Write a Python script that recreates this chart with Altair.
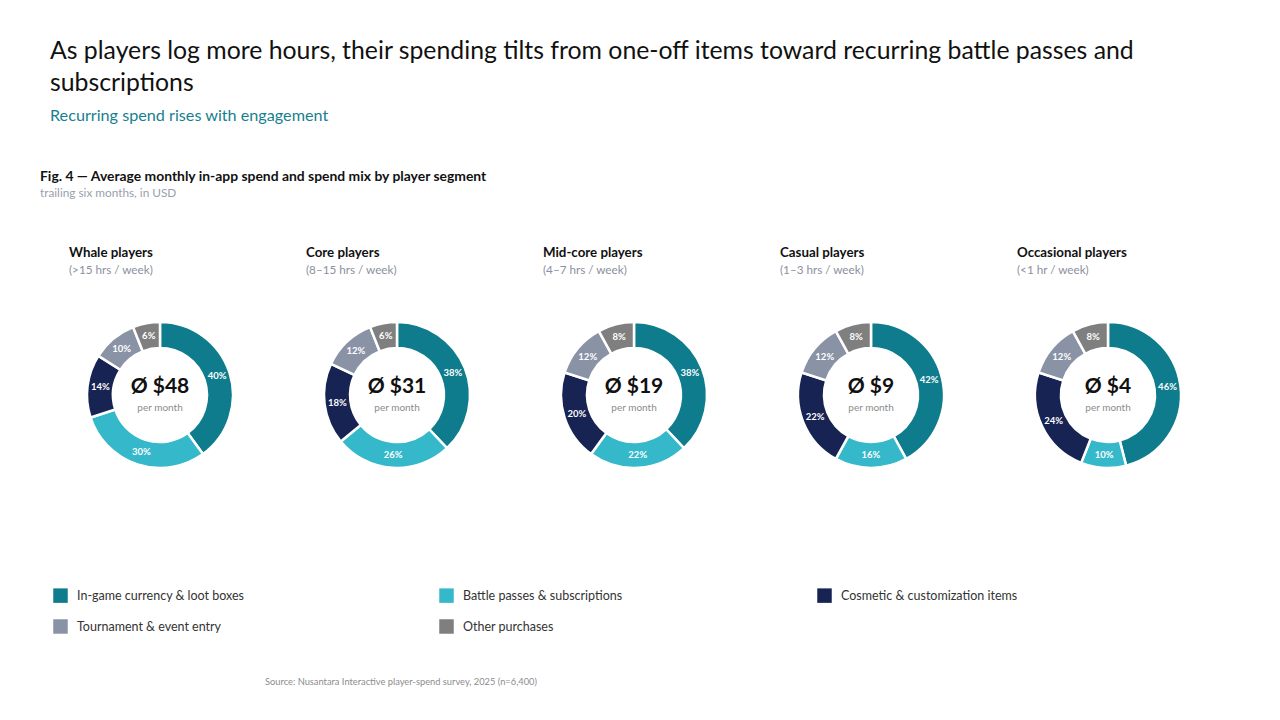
import altair as alt
import pandas as pd

# ---- data ----
segments = ["Whale players", "Core players", "Mid-core players", "Casual players", "Occasional players"]
hours = ["(>15 hrs / week)", "(8–15 hrs / week)", "(4–7 hrs / week)", "(1–3 hrs / week)", "(<1 hr / week)"]
avg_spend = [48, 31, 19, 9, 4]

categories = ["In-game currency & loot boxes", "Battle passes & subscriptions",
              "Cosmetic & customization items", "Tournament & event entry", "Other purchases"]
ingame = [40, 38, 38, 42, 46]
battle = [30, 26, 22, 16, 10]
cosmetic = [14, 18, 20, 22, 24]
tournament = [10, 12, 12, 12, 12]
other = [6, 6, 8, 8, 8]

colors = ["#0E7C8C", "#35B8CA", "#172353", "#8A92A6", "#7F7F7F"]

title_lines = ["As players log more hours, their spending tilts from one-off items toward recurring battle passes and",
               "subscriptions"]
subtitle = "Recurring spend rises with engagement"
fig_title = "Fig. 4 — Average monthly in-app spend and spend mix by player segment"
fig_sub = "trailing six months, in USD"
source = "Source: Nusantara Interactive player-spend survey, 2025 (n=6,400)"

FONT = "Lato"

# ---- build tables ----
series = [ingame, battle, cosmetic, tournament, other]
rows = []
for i, seg in enumerate(segments):
    cum = 0
    for j, cat in enumerate(categories):
        v = series[j][i]
        rows.append({"segment": seg, "category": cat, "order": j, "value": v,
                     "start": cum, "end": cum + v, "mid": cum + v / 2, "label": f"{v}%"})
        cum += v
df = pd.DataFrame(rows)

seg_df = pd.DataFrame({"segment": segments, "hours": hours,
                       "spend": [f"Ø ${v}" for v in avg_spend]})

xenc = alt.X("segment:N", axis=None,
             scale=alt.Scale(type="point", domain=segments, range=[160, 1108], padding=0))
theta_scale = alt.Scale(domain=[0, 100], range=[0, 6.283185307])

arcs = alt.Chart(df).mark_arc(innerRadius=47, outerRadius=73, stroke="white", strokeWidth=2.5).encode(
    x=xenc,
    y=alt.value(395),
    theta=alt.Theta("start:Q", scale=theta_scale),
    theta2="end:Q",
    color=alt.Color("category:N", scale=alt.Scale(domain=categories, range=colors),
                    legend=alt.Legend(title=None, orient="none", legendX=53, legendY=588,
                                      columns=3, direction="horizontal",
                                      symbolType="square", symbolSize=210,
                                      symbolStrokeWidth=0, labelFont=FONT, labelFontSize=12.5,
                                      labelColor="#333333", labelOffset=9, rowPadding=16,
                                      columnPadding=194, labelLimit=400)),
    order="order:Q",
)

pct = alt.Chart(df).mark_text(radius=60, font=FONT, fontSize=9.5, fontWeight="bold",
                              color="white", baseline="middle", align="center").encode(
    x=xenc,
    y=alt.value(395),
    theta=alt.Theta("mid:Q", scale=theta_scale),
    text="label:N",
)

center_val = alt.Chart(seg_df).mark_text(font=FONT, fontSize=21, fontWeight="bold",
                                         color="#111111", baseline="middle").encode(
    x=xenc, y=alt.value(387), text="spend:N")
center_sub = alt.Chart(seg_df).mark_text(font=FONT, fontSize=10, color="#8C8C8C",
                                         baseline="middle").encode(
    x=xenc, y=alt.value(408), text=alt.value("per month"))

seg_name = alt.Chart(seg_df).mark_text(font=FONT, fontSize=13.3, fontWeight="bold", color="#111111",
                                       align="left", baseline="middle", dx=-91).encode(
    x=xenc, y=alt.value(253), text="segment:N")
seg_hours = alt.Chart(seg_df).mark_text(font=FONT, fontSize=11.7, color="#8A90A0",
                                        align="left", baseline="middle", dx=-91).encode(
    x=xenc, y=alt.value(270), text="hours:N")


def label(txt, x, y, size, color, weight="normal"):
    return alt.Chart(pd.DataFrame({"t": [txt]})).mark_text(
        font=FONT, fontSize=size, color=color, fontWeight=weight,
        align="left", baseline="middle").encode(
        x=alt.value(x), y=alt.value(y), text="t:N")


title1 = label(title_lines[0], 50, 52, 24.8, "#111111")
title2 = label(title_lines[1], 50, 84, 24.8, "#111111")
sub = label(subtitle, 50, 116, 16.2, "#17808F")
fig1 = label(fig_title, 40, 177, 13.9, "#111111", "bold")
fig2 = label(fig_sub, 40, 193, 11.8, "#9AA0AD")
src = label(source, 265, 682, 9.3, "#8C8C8C")

chart = alt.layer(arcs, pct, center_val, center_sub, seg_name, seg_hours,
                  title1, title2, sub, fig1, fig2, src).properties(
    width=1280, height=720, padding=0, autosize="none", background="white"
).configure_view(stroke=None)

chart.save("out.html", embed_options={"renderer": "svg", "actions": False})
